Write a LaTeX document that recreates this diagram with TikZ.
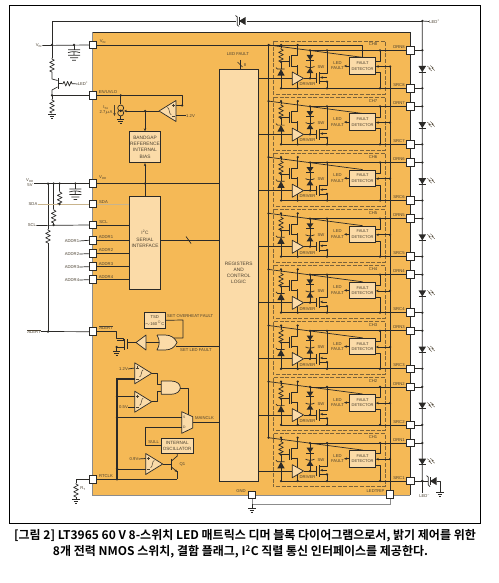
\documentclass[tikz,border=0pt]{standalone}
\usepackage{amsmath,amssymb}
\usepackage{fontspec}
\usepackage{xcolor}
\usepackage{tikz}
\setsansfont{Liberation Sans}
\newfontfamily\cjkbold[BoldFont={Noto Sans CJK KR Bold}]{Noto Sans CJK KR}
\definecolor{chip}{HTML}{F5B956}
\definecolor{block}{HTML}{FBDBA8}
\definecolor{wire}{HTML}{2B2A28}
\definecolor{edge}{HTML}{8C8C8C}
\definecolor{soft}{HTML}{C9B48C}
\definecolor{ink}{HTML}{4A4030}
\tikzset{
 ln/.style={draw=wire,line width=.7pt,line join=round},
 thick ln/.style={draw=wire,line width=1.2pt},
 grayln/.style={draw=edge,line width=.8pt},
 softln/.style={draw=soft,line width=.8pt},
 lbl/.style={font=\sffamily\fontsize{4.2}{5.4}\selectfont,text=ink,inner sep=0pt,align=center},
 pin/.style={draw=wire,fill=white,minimum size=7.6pt,inner sep=0pt,line width=.9pt},
 blk/.style={draw=wire,fill=block,line width=.8pt,inner sep=0pt,align=center,font=\sffamily\fontsize{4.8}{6.2}\selectfont,text=ink},
 chbox/.style={draw=wire!60!chip,line width=.55pt,dash pattern=on 4pt off 1.6pt},
 tip/.style={-{Stealth[length=3pt,width=2.4pt]}},
 resv/.pic={\draw[ln] (0,0)--(0,1)--(2.3,2.2)--(-2.3,4.4)--(2.3,6.6)--(-2.3,8.8)--(2.3,11)--(-2.3,13)--(0,14);},
 resh/.pic={\draw[ln] (0,0)--(1,0)--(2,-2.3)--(3.8,2.3)--(5.6,-2.3)--(7.4,2.3)--(9.2,-2.3)--(10,0)--(11,0);},
 gndsym/.pic={\draw[ln] (-3.6,0)--(3.6,0) (-2.4,2)--(2.4,2) (-1.1,4)--(1.1,4);},
 capg/.pic={\draw[ln] (-6,0)--(6,0) (-6,3) .. controls (-2,1.6) and (2,1.6) .. (6,3) (0,2.2)--(0,5.5) (-6,5.5)--(6,5.5) (-4,8)--(4,8) (-1.8,10.5)--(1.8,10.5);},
 comp/.pic={\draw[ln,fill=block] (0,-10.5)--(17,0)--(0,10.5)--cycle;
  \draw[draw=ink,line width=.45pt] (1.5,-5.5)--(4.5,-5.5) (3,-7)--(3,-4) (1.5,5.5)--(4.5,5.5);
  \draw[draw=ink,line width=.5pt] (4.8,3.6) .. controls (7,4) and (6.4,-3.8) .. (8.6,-3.6);},
 swtip/.pic={\draw[ln] (-2.5,-5.5) .. controls (2,-6) and (-3.5,5.5) .. (1,5.5);
  \fill[wire] (1,0)--(7.5,-4)--(7.5,4)--cycle;\draw[ln] (1,-4)--(1,4);},
 ledsym/.pic={\fill[wire] (-3.8,-3)--(3.8,-3)--(0,3)--cycle;\draw[ln] (-3.8,3)--(3.8,3);
  \draw[draw=ink,line width=.35pt] (5,-3)--(8,-.5)--(6.5,-.5)--(9.5,2) (8,-3.5)--(11,-1)--(9.5,-1)--(12.5,1.5);},
 zenup/.pic={\fill[wire] (-3.6,3.6)--(3.6,3.6)--(0,-3)--cycle;\draw[ln] (-5,-4.5)--(-3.6,-3)--(3.6,-3);},
 diodn/.pic={\fill[wire] (-3.4,-2.4)--(3.4,-2.4)--(0,2.6)--cycle;\draw[ln] (-3.6,2.8)--(3.6,2.8);},
 diozup/.pic={\fill[wire] (-3.4,2.6)--(3.4,2.6)--(0,-2.6)--cycle;\draw[ln] (-4.4,-4) .. controls (-2,-2.6) and (2,-2.6) .. (4.4,-4);}
}
\usetikzlibrary{arrows.meta}
\begin{document}
\begin{tikzpicture}[x=1pt,y=-1pt]
\useasboundingbox (0,0) rectangle (498,583);
\draw[black,line width=1pt] (9.5,5.5) rectangle (480,523.5);
% chip body
\fill[chip] (92.5,32) rectangle (410,495);
\draw[grayln] (92.5,32)--(92.5,495)--(410,495);
\draw[draw=wire,line width=.9pt] (92.5,32)--(410,32)--(410,495);
\node[blk,minimum width=38.5pt,minimum height=412.5pt] (regs) at (238.7,275.5) {};
\node[lbl,font=\sffamily\fontsize{4.8}{6.2}\selectfont] (regtxt) at (238.7,273) {REGISTERS\\AND\\CONTROL\\LOGIC};
\node[blk,minimum width=31.4pt,minimum height=31pt] (bg) at (145,147.2) {BANDGAP\\REFERENCE\\INTERNAL\\BIAS};
\node[blk,minimum width=31.4pt,minimum height=93pt] (iic) at (145,242.5) {};
\node[lbl,font=\sffamily\fontsize{4.8}{6.2}\selectfont] (iictxt) at (145,239) {I\textsuperscript{2}C\\SERIAL\\INTERFACE};
\node[blk,minimum width=21pt,minimum height=16pt,font=\sffamily\fontsize{4.2}{6.8}\selectfont] (tsd) at (154.7,320.3) {TSD\\$\sim$160$^\circ$C};
\node[blk,minimum width=32pt,minimum height=15pt,font=\sffamily\fontsize{4.6}{5.8}\selectfont] (osc) at (177.2,445.8) {INTERNAL\\OSCILLATOR};
% pins on the left
\node[pin] (vin) at (93,45) {};\node[pin] (en) at (93,95.3) {};\node[pin] (vdd) at (93,183.5) {};
\node[pin] (sda) at (93,204) {};\node[pin] (scl) at (93,225) {};\node[pin] (ad1) at (93,240.3) {};
\node[pin] (ad2) at (93,253.7) {};\node[pin] (ad3) at (93,266.7) {};\node[pin] (ad4) at (93,279.7) {};
\node[pin] (alert) at (93,331.7) {};\node[pin] (rt) at (93,479.3) {};
\node[pin] (gnd) at (252,495) {};\node[pin] (trip) at (390,494.5) {};
\node[lbl] (tvin) at (103,42) {V\textsubscript{IN}};\node[lbl] (ten) at (108,91.5) {EN/UVLO};\node[lbl] (tvdd) at (103,177.5) {V\textsubscript{DD}};
\node[lbl] (tsda) at (103.5,201.7) {SDA};\node[lbl] (tscl) at (103.5,222.3) {SCL};\node[lbl] (tad1) at (106,237) {ADDR1};
\node[lbl] (tad2) at (106,250.2) {ADDR2};\node[lbl] (tad3) at (106,263.6) {ADDR3};\node[lbl] (tad4) at (106,276.7) {ADDR4};
\node[lbl] (talert) at (106,328) {$\overline{\mbox{ALERT}}$};\node[lbl] (trt) at (106,476) {RTCLK};
\node[lbl] (tgnd) at (241,490.8) {GND};\node[lbl] (ttrip) at (375.5,490.8) {LEDTRIP};
% outer labels
\node[lbl] (xvin) at (39,45.5) {V\textsubscript{IN}};\node[lbl] (xvdd) at (30,182.5) {V\textsubscript{DD}\\5V};
\node[lbl] (xsda) at (33,204) {SDA};\node[lbl] (xscl) at (32,225.5) {SCL};\node[lbl] (xalert) at (34,331.5) {$\overline{\mbox{ALERT}}$};
\node[lbl] (xad1) at (72,241) {ADDR1};\node[lbl] (xad2) at (72,254) {ADDR2};\node[lbl] (xad3) at (72,267) {ADDR3};\node[lbl] (xad4) at (72,280) {ADDR4};
\node[lbl] (xled) at (83,84) {LED\textsuperscript{+}};\node[lbl] (xtop) at (434.5,21.5) {LED\textsuperscript{+}};\node[lbl] (xbot) at (424.5,496.5) {LED\textsuperscript{--}};
\node[lbl] (xrt) at (83,489) {R\textsubscript{T}};
\node[lbl] (tfault) at (238,54.5) {LED FAULT};\node[lbl] (t8) at (245,65) {8};
% external, top left
\draw[ln] (xvin.east)--(vin.west);
\coordinate (t1) at (52,21);\coordinate (t2) at (52,45);\coordinate (t3) at (52,95.3);\coordinate (rail) at (422.3,21);
\draw[ln] (t2)--(t1)--(236,21);\draw[ln] (247,21)--(rail);\pic at (238,21) {swtip};
\draw[ln] (xtop.west)--(rail)--(422.3,481);
\draw[ln] (t2)--(52,58);\pic at (52,58) {resv};
\draw[ln] (52,72)--(52,79)--(57.5,80.5);\draw[ln] (57.5,87)--(52,90)--(t3);\draw[line width=1.2pt,draw=wire] (58.3,78)--(58.3,89);
\draw[ln] (58.3,83.7)--(62,83.7);\pic at (62,83.7) {resh};\draw[ln] (73,83.7)--(xled.west);
\draw[ln] (t3)--(en.west);\draw[ln] (t3)--(52,99);\pic at (52,99) {resv};\pic at (52,114) {gndsym};
\draw[ln] (74,45)--(74,49.7);\pic at (74,49.7) {capg};
% EN and the comparator
\coordinate (enr) at (182,95.3);\draw[ln] (en.east)--(enr)--(182,105.5)--(176,105.5);
\pic[xscale=-1] (cen) at (176,111) {comp};
\coordinate (is1) at (120.7,95.3);\draw[ln] (is1)--(120.7,104.5);
\draw[ln] (120.7,108) circle (3);\draw[ln] (120.7,113) circle (3);\draw[ln] (120.7,116)--(120.7,119);\pic at (120.7,119) {gndsym};
\draw[ln,tip] (159,111)--(123.9,111);\coordinate (bgup) at (145,111);\draw[ln,tip] (bgup)--(bg.north);
\node[lbl] (tis1) at (106,110) {I\textsubscript{S1}\\2.7$\mu$A};\draw[draw=ink,line width=.35pt,tip] (114.5,105)--(114.5,116);
\node[lbl] (t12) at (190.5,115.7) {1.2V};\draw[ln] (176,115.7)--(t12.west);
% VDD side
\coordinate (dv) at (145,183.5);\draw[ln] (xvdd.east |- vdd)--(vdd.west);\draw[ln] (vdd.east)--(regs.west |- vdd);
\draw[ln,tip] (dv)--(bg.south);\draw[ln] (dv)--(iic.north);
\draw[ln] (75.3,183.5)--(75.3,189);\pic at (75.3,189) {capg};
\draw[ln] (59.7,183.5)--(59.7,191);\pic at (59.7,191) {resv};\draw[ln] (59.7,205)--(59.7,204);
\draw[ln] (53.7,183.5)--(53.7,209);\pic at (53.7,209) {resv};\draw[ln] (53.7,223)--(53.7,225);
\draw[ln] (48,183.5)--(48,229);\pic at (48,229) {resv};\draw[ln] (48,243)--(48,331.7);
\draw[softln] (xsda.east)--(sda.west);\draw[softln] (sda.east)--(iic.west |- sda);
\draw[ln] (xscl.east)--(scl.west);\draw[ln] (scl.east)--(iic.west |- scl);
\foreach \a in {1,2,3,4}{\draw[ln] (xad\a.east)--(ad\a.west);\draw[ln] (ad\a.east)--(iic.west |- ad\a);}
\draw[ln] (xalert.east)--(alert.west);
\draw[ln] (iic.east |- ad1)--(regs.west |- ad1);\draw[ln] (186,236.5)--(191,243.5);
\draw[ln] (240,60)--(240,69);\draw[ln] (237.5,62)--(242.5,67);
% fault path
\draw[ln] (alert.east)--(116.7,331.7)--(116.7,338)--(123.5,338)--(123.5,340.3);
\draw[ln] (123.5,340.3)--(117,340.3);\draw[line width=1pt,draw=wire] (124,339)--(124,350);\draw[ln] (127,339)--(127,349);
\draw[ln] (124,347)--(116.7,347)--(116.7,351);\pic at (116.7,351) {gndsym};
\draw[ln,fill=block] (146,335)--(136,342.5)--(146,350)--cycle;\draw[ln] (127,342.5)--(136,342.5);
\draw[ln] (146,342.5)--(158.5,342.5);
\draw[ln,fill=block] (157,335)--(165,335) .. controls (171,335) and (175,338) .. (177,342.5) .. controls (175,347) and (171,350) .. (165,350)--(157,350) .. controls (160,345) and (160,340) .. (157,335);
\draw[ln] (174,338)--(183,338)--(183,320)--(tsd.east);\draw[ln] (176,346)--(regs.west |- 0,346);
\node[lbl,anchor=west] (tov) at (167,316) {SET OVERHEAT FAULT};\node[lbl,anchor=west] (tset) at (180,350.5) {SET LED FAULT};
% clock part
\pic (c1) at (134.7,373.3) {comp};\pic (c2) at (134.7,401.7) {comp};
\node[lbl] (t1v) at (123.5,369) {1.2V};\node[lbl] (t5v) at (123.5,407) {0.5V};\draw[ln] (t1v.east)--(134.7,368);\draw[ln] (t5v.east)--(134.7,407);
\draw[thick ln] (134.7,379)--(117,379)--(117,479.3);\draw[ln] (117,396.3)--(134.7,396.3);
\draw[ln,fill=block] (161.3,381)--(171,381) .. controls (177,381) and (180.3,384) .. (180.3,387.7) .. controls (180.3,391) and (177,394.3) .. (171,394.3)--(161.3,394.3)--cycle;
\draw[ln] (151.7,373.3)--(157,373.3)--(157,384.5)--(161.3,384.5);\draw[ln] (151.7,401.7)--(157,401.7)--(157,391)--(161.3,391);
\draw[ln] (180.3,388)--(188.3,388)--(188.3,415);
\draw[ln,fill=block] (181.7,411.7)--(192.7,416.7)--(192.7,428)--(181.7,433.3)--cycle;
\node[lbl,font=\sffamily\fontsize{3.4}{4}\selectfont] (ts) at (184.3,417.3) {S};\node[lbl,font=\sffamily\fontsize{3.4}{4}\selectfont] (td) at (184.3,427.3) {D};
\draw[ln] (117,417.3)--(181.7,417.3);\draw[ln] (osc.west)--(145.7,445.8)--(145.7,427.3)--(181.7,427.3);
\draw[ln] (192.7,422.3)--(regs.west |- 0,422.3);\node[lbl] (tclk) at (204.5,418.5) {MAINCLK};\node[lbl] (tsll) at (153.7,442.5) {SULL};
\pic (c3) at (145.7,464) {comp};\node[lbl] (t9v) at (134,459) {0.9V};\draw[ln] (t9v.east)--(145.7,458.5);\draw[ln] (117,469.5)--(145.7,469.5);
\draw[ln] (162.7,464)--(171,464);\draw[line width=1pt,draw=wire] (171.3,458.5)--(171.3,469.5);
\draw[ln] (osc.south)--(177.3,456)--(171.5,461);\draw[ln,tip] (171.5,467)--(177.3,472);\draw[ln] (177.3,471)--(177.3,479.3);
\node[lbl] (tq1) at (182.5,464) {Q1};
\draw[thick ln] (rt.east)--(177.3,479.3);
\draw[ln] (rt.west)--(76,479.3)--(76,483);\pic at (76,483) {resv};\pic at (76,499.5) {gndsym};\draw[ln] (76,497)--(76,499.5);
% gnd and ledtrip
\draw[grayln] (gnd.south)--(252,504)--(390,504)--(trip.south);\pic at (252,508) {gndsym};\draw[ln] (252,504)--(252,508);
\draw[ln] (trip.north)--(390,66.5);
% channels
\draw[ln] (vin.east)--(362,45)--(362,58);\draw[ln] (268.5,45)--(268.5,437.7);
\foreach \lab/\r in {8/0,7/1,6/2,5/3,4/4,3/5,2/6,1/7}{
\begin{scope}[shift={(0,56.1*\r)}]
\draw[chbox] (273,41) rectangle (385,94);
\node[lbl] (ch\lab) at (373,44.5) {CH\lab};
\node[pin] (drn\lab) at (410.5,50.3) {};\node[pin] (src\lab) at (410.5,88.3) {};
\node[lbl] (tdrn\lab) at (399,47) {DRN\lab};\node[lbl] (tsrc\lab) at (399,85) {SRC\lab};
\node[blk,minimum width=25.5pt,minimum height=16.6pt,font=\sffamily\fontsize{4}{5.4}\selectfont] (fd\lab) at (362.6,66) {FAULT\\DETECTOR};
\node[lbl] (lf\lab) at (337.5,65.8) {LED\\FAULT};\node[lbl] (sw\lab) at (321,67) {SW};\node[lbl] (dr\lab) at (307.5,84.3) {DRIVER};
\draw[ln] (268.5,45)--(fd\lab.north -| 362,45)--(fd\lab.north);
% switch and zener
\draw[ln] (281,45)--(281,48);\pic at (281,48) {resv};\draw[ln] (281,62)--(281,69);\pic at (281,72) {zenup};\draw[ln] (281,75)--(281,88.3);
\draw[ln] (281,88.3)--(src\lab.west);\draw[ln] (src\lab.east)--(422.3,88.3);\draw[ln] (drn\lab.east)--(422.3,50.3);
\draw[ln] (281,61.7)--(289,61.7);\draw[line width=.9pt,draw=wire] (289,56)--(289,67);\draw[ln] (291,55.7)--(291,67);
\draw[ln] (291,55.7)--(297.7,55.7);\draw[ln] (291,66)--(297.7,66);
\draw[ln] (297.7,45)--(297.7,55.7);\draw[ln] (297.7,65)--(297.7,75);\draw[ln] (297.7,82)--(297.7,88.3);
\draw[ln,fill=block] (292.3,72)--(303.5,78.3)--(292.3,85)--cycle;
\draw[ln] (258,78.3)--(292.3,78.3);\draw[ln] (303.5,78.3)--(316.7,78.3);
\draw[ln] (310,50.3)--(310,78.3);\pic at (310,57.4) {diodn};\pic at (310,70.5) {diozup};
\draw[ln] (310,50.3)--(drn\lab.west);
\draw[line width=.9pt,draw=wire] (316.7,73.5)--(316.7,83);\draw[ln] (319.3,72.5)--(319.3,84);
\draw[ln] (319.3,73.3)--(327,73.3)--(327,50.3);\draw[ln] (319.3,81.7)--(327,81.7)--(327,88.3);\draw[ln,tip] (327,77.5)--(320,77.5);
% fault detector
\draw[ln] (fd\lab.east |- 0,61)--(380,61)--(380,50.3);\draw[ln] (fd\lab.east |- 0,72.7)--(380,72.7)--(380,88.3);
\draw[ln,tip] (390,66.5)--(fd\lab.east |- 0,66.5);\draw[ln,tip] (fd\lab.west)--(344,66);
\pic at (422.3,69) {ledsym};
\foreach \p in {(281,45),(297.7,45),(281,62),(310,78.3),(310,50.3),(327,50.3),(380,50.3),(297.7,88.3),(327,88.3),(380,88.3),(327,81.7),(390,66.5),(422.3,50.3),(422.3,88.3),(268.5,45),(281,88.3)}
 \fill[wire] \p circle (1.25);
\end{scope}}
\draw[ln] (422.3,481.1)--(422.3,493);\draw[ln] (422.3,481.1)--(428,481.1);\pic at (429,481.1) {swtip};\draw[ln] (436.5,481.1)--(440,481.1)--(440,492.5);\pic at (440,492.5) {gndsym};
% junction dots
\foreach \p in {(52,45),(74,45),(52,95.3),(120.7,95.3),(145,111),(145,183.5),(48,183.5),(53.7,183.5),(59.7,183.5),(75.3,183.5),(59.7,204),(53.7,225),(48,331.7),(117,396.3),(117,417.3),(117,468.7),(117,479.3),(120.7,111),(182,105.5),(116.7,347),(422.3,21),(422.3,481.1)}
 \fill[wire] \p circle (1.25);
% caption
\node[font=\cjkbold\bfseries\fontsize{12}{14}\selectfont,text=black,inner sep=0pt] (cap1) at (245,535.5) {[그림 2] LT3965 60 V 8-스위치 LED 매트릭스 디머 블록 다이어그램으로서, 밝기 제어를 위한};
\node[font=\cjkbold\bfseries\fontsize{12}{14}\selectfont,text=black,inner sep=0pt] (cap2) at (240.5,551.7) {8개 전력 NMOS 스위치, 결함 플래그, I\textsuperscript{2}C 직렬 통신 인터페이스를 제공한다.};
\end{tikzpicture}
\end{document}
